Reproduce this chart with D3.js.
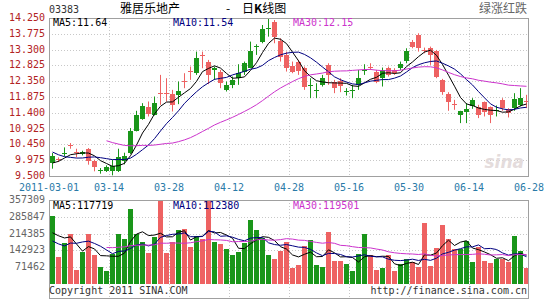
<!DOCTYPE html>
<html lang="zh-CN">
<head>
<meta charset="UTF-8">
<title>03383 雅居乐地产 日K线图</title>
<script src="https://cdn.jsdelivr.net/npm/d3@7/dist/d3.min.js"></script>
<style>
    body { margin: 0; background: #fff; }
    text { font-family: "DejaVu Sans Mono", monospace; }
</style>
</head>
<body>
<script>
    // trading days shown (2011)
    var dates = ["03-01","03-02","03-03","03-04","03-07","03-08","03-09","03-10","03-11","03-14",
        "03-15","03-16","03-17","03-18","03-21","03-22","03-23","03-24","03-25","03-28",
        "03-29","03-30","03-31","04-01","04-04","04-06","04-07","04-08","04-11","04-12",
        "04-13","04-14","04-15","04-18","04-19","04-20","04-21","04-26","04-27","04-28",
        "04-29","05-03","05-04","05-05","05-06","05-09","05-11","05-12","05-13","05-16",
        "05-17","05-18","05-19","05-20","05-23","05-24","05-25","05-26","05-27","05-30",
        "05-31","06-01","06-02","06-03","06-07","06-08","06-09","06-10","06-13","06-14",
        "06-15","06-16","06-17","06-20","06-21","06-22","06-23","06-24","06-27","06-28"];

    var open = [9.89,10.00,10.15,10.43,10.21,10.17,10.32,9.96,9.66,9.64,
        9.64,9.64,9.94,10.19,10.86,11.22,11.57,11.34,12.00,12.00,
        11.96,11.94,12.37,12.65,12.59,13.13,12.92,12.69,12.64,12.09,
        12.24,12.44,12.64,12.76,13.38,13.54,13.93,14.14,13.56,13.14,
        12.82,12.92,12.74,12.22,12.08,12.24,12.84,12.32,12.36,12.03,
        12.06,12.24,12.68,12.77,12.64,12.44,12.76,12.69,12.76,12.96,
        13.54,13.74,13.30,13.36,13.26,12.39,11.96,11.65,11.34,11.42,
        11.61,11.56,11.72,11.56,11.45,11.79,11.52,11.54,11.64,11.75];
    var high = [10.19,10.06,10.36,10.49,10.32,10.26,10.34,9.99,9.74,9.82,
        9.99,10.32,10.20,10.94,11.46,11.69,11.74,11.89,12.54,12.44,
        12.09,12.34,12.59,12.79,13.24,13.24,12.99,12.79,12.69,12.34,
        12.49,12.86,12.94,13.54,13.46,14.04,14.25,14.19,13.64,13.24,
        12.94,12.99,12.79,12.44,12.29,12.54,12.89,12.39,12.44,12.14,
        12.24,12.69,12.86,12.89,12.69,12.76,12.79,12.74,12.94,13.34,
        13.59,13.79,13.36,13.39,13.29,12.42,12.02,11.79,11.46,11.69,
        11.84,11.64,11.74,11.59,11.62,11.84,11.54,11.99,12.14,11.94];
    var low = [9.72,9.92,10.09,10.32,10.06,10.12,9.84,9.64,9.57,9.62,
        9.52,9.62,9.85,10.16,10.84,11.19,11.29,11.32,11.64,11.74,
        11.44,11.66,12.14,12.39,12.54,12.74,12.26,12.39,12.14,12.04,
        12.14,12.24,12.54,12.74,13.14,13.49,13.69,13.49,12.94,12.64,
        12.59,12.54,12.09,11.84,11.84,12.19,12.24,11.99,12.02,11.92,
        11.84,12.09,12.54,12.69,12.29,12.19,12.49,12.54,12.69,12.89,
        13.34,13.24,13.19,12.84,12.44,11.94,11.46,11.49,11.09,11.09,
        11.52,11.24,11.29,11.09,11.29,11.46,11.26,11.46,11.59,11.54];
    var close = [10.09,9.98,10.18,10.40,10.19,10.22,9.96,9.76,9.68,9.76,
        9.79,10.06,10.11,10.84,11.34,11.61,11.36,11.69,11.98,11.97,
        11.64,12.06,12.35,12.63,13.04,13.11,12.54,12.74,12.29,12.24,
        12.39,12.59,12.89,13.26,13.40,13.92,13.96,13.69,13.09,12.74,
        12.64,12.66,12.19,12.24,12.09,12.46,12.54,12.16,12.22,12.05,
        12.08,12.46,12.70,12.75,12.34,12.69,12.54,12.59,12.86,13.26,
        13.39,13.34,13.28,13.14,12.49,12.02,11.72,11.63,11.44,11.52,
        11.79,11.34,11.42,11.32,11.47,11.54,11.39,11.82,11.84,11.73];
    var volume = [289000,116000,173000,213000,60000,137000,213000,123000,71000,55000,
        128000,213000,190000,319000,211000,177000,133000,201000,357309,133000,
        180000,230000,233000,159000,204000,190000,352000,180000,170000,149000,
        123000,138000,173000,272000,230000,194000,123000,106000,140000,180000,
        69000,81000,162000,187000,81000,74000,223000,99000,99000,85000,
        57000,128000,211000,123000,60000,69000,123000,55000,85000,106000,
        95000,74000,261000,77000,152000,251000,191000,148000,148000,183000,
        95000,156000,99000,91000,106000,106000,95000,204000,140000,67000];

    // the 20 sessions before 03-01, only used to seed the moving averages
    var prevClose = [11.45,11.40,11.30,11.20,11.25,11.30,11.40,11.35,11.30,11.25,
        11.25,10.80,10.75,10.61,10.40,10.19,9.73,9.68,9.90,10.05];
    var prevVolume = [150000,160000,140000,170000,155000,150000,145000,160000,150000,140000,
        150000,240000,260000,90000,70000,80000,180000,220000,190000,211000];

    var priceTicks = [9.5,9.975,10.45,10.925,11.4,11.875,12.35,12.825,13.3,13.775,14.25];
    var volumeTicks = [71462,142923,214385,285847,357309];
    var dateLabels = ["2011-03-01","03-14","03-28","04-12","04-28","05-16","05-30","06-14","06-28"];
    var maPeriods = [5,10,30];
    var priceMaText = ["MA5:11.64","MA10:11.54","MA30:12.15"];
    var volumeMaText = ["MA5:117719","MA10:112380","MA30:119501"];

    // 画布
    var width = 545, height = 301;
    var left = 49, right = 529;
    var pTop = 18, pBot = 176;
    var vTop = 200, vBot = 284, vBox = 298;
    var green = "#1a961a", red = "#ee6262";
    var maColor = ["#000000","#000080","#cc33cc"];

    var svg = d3.select("body").append("svg")
        .attr("width", width)
        .attr("height", height);

    var x = d3.scaleBand().domain(d3.range(dates.length)).range([left, right]);
    var xl = d3.scalePoint().domain(dateLabels).range([left, right]);
    var yp = d3.scaleLinear().domain([9.5, 14.25]).range([pBot, pTop]);
    var yv = d3.scaleLinear().domain([0, 357309]).range([vBot, vTop]);

    function px(v) { return Math.round(v) + 0.5; }

    // 网格
    function grid(top, bottom, ys) {
        var g = svg.append("g")
            .attr("stroke", "#c8c8c8")
            .attr("stroke-dasharray", "1,2");
        dateLabels.slice(1, -1).forEach(function (d) {
            g.append("line")
                .attr("x1", px(xl(d))).attr("x2", px(xl(d)))
                .attr("y1", top).attr("y2", bottom);
        });
        ys.forEach(function (y) {
            g.append("line")
                .attr("x1", left).attr("x2", right)
                .attr("y1", px(y)).attr("y2", px(y));
        });
    }
    grid(pTop, pBot, priceTicks.slice(1, -1).map(yp));
    grid(vTop, vBox, volumeTicks.slice(0, -1).map(yv));

    // sina watermark
    svg.append("text")
        .attr("x", 524).attr("y", 168)
        .attr("text-anchor", "end")
        .style("font-family", "DejaVu Sans")
        .style("font-style", "italic")
        .style("font-weight", "bold")
        .style("font-size", "17px")
        .attr("fill", "#e4dcdc")
        .text("sina");

    // 均线
    function movingAverage(prev, vals, n) {
        var all = prev.concat(vals);
        return vals.map(function (v, i) {
            var end = prev.length + i;
            if (end + 1 < n) return null;
            return d3.mean(all.slice(end + 1 - n, end + 1));
        });
    }
    function drawMa(prev, vals, y) {
        maPeriods.forEach(function (n, k) {
            var ma = movingAverage(prev, vals, n);
            var line = d3.line()
                .defined(function (d) { return d !== null; })
                .x(function (d, i) { return x(i) + 3.5; })
                .y(function (d) { return y(d); });
            svg.append("path")
                .datum(ma)
                .attr("d", line)
                .attr("fill", "none")
                .attr("stroke", maColor[k])
                .attr("stroke-width", 1);
        });
    }

    // K线
    var candles = svg.append("g");
    dates.forEach(function (d, i) {
        var up = close[i] >= open[i];
        var c = up ? green : red;
        var cx = x(i) + 3.5;
        candles.append("line")
            .attr("x1", cx).attr("x2", cx)
            .attr("y1", yp(high[i])).attr("y2", yp(low[i]))
            .attr("stroke", c);
        var t = Math.round(yp(Math.max(open[i], close[i])));
        var b = Math.round(yp(Math.min(open[i], close[i])));
        candles.append("rect")
            .attr("x", x(i) + 1)
            .attr("y", t)
            .attr("width", 5)
            .attr("height", Math.max(1, b - t))
            .attr("fill", c);
    });
    drawMa(prevClose, close, yp);

    // 成交量
    var bars = svg.append("g");
    dates.forEach(function (d, i) {
        var up = close[i] >= open[i];
        var t = Math.round(yv(volume[i]));
        bars.append("rect")
            .attr("x", x(i) + 1)
            .attr("y", t)
            .attr("width", 5)
            .attr("height", vBot - t)
            .attr("fill", up ? green : red);
    });
    drawMa(prevVolume, volume, yv);

    // 边框
    svg.append("rect")
        .attr("x", left + 0.5).attr("y", pTop + 0.5)
        .attr("width", right - left - 1).attr("height", pBot - pTop)
        .attr("fill", "none").attr("stroke", "#a0a0a0");
    svg.append("rect")
        .attr("x", left + 0.5).attr("y", vTop + 0.5)
        .attr("width", right - left - 1).attr("height", vBox - vTop)
        .attr("fill", "none").attr("stroke", "#a0a0a0");

    // 坐标文字
    svg.selectAll(".pt").data(priceTicks).enter().append("text")
        .attr("x", 45).attr("y", function (d) { return yp(d) + 3; })
        .attr("text-anchor", "end")
        .attr("fill", "#b22222")
        .style("font-size", "10px")
        .text(function (d) { return d.toFixed(3); });
    svg.selectAll(".vt").data(volumeTicks).enter().append("text")
        .attr("x", 45).attr("y", function (d) { return yv(d) + 3; })
        .attr("text-anchor", "end")
        .attr("fill", "#666")
        .style("font-size", "10px")
        .text(function (d) { return d; });
    svg.selectAll(".dt").data(dateLabels).enter().append("text")
        .attr("x", function (d) { return xl(d); })
        .attr("y", 191)
        .attr("text-anchor", function (d, i) { return i === 0 ? "middle" : "middle"; })
        .attr("fill", "#2a7aa8")
        .style("font-size", "10px")
        .text(function (d) { return d; });

    // 均线数值
    [53, 173, 293].forEach(function (lx, k) {
        svg.append("text").attr("x", lx).attr("y", 26)
            .attr("fill", maColor[k]).style("font-size", "10px")
            .text(priceMaText[k]);
        svg.append("text").attr("x", lx).attr("y", 209)
            .attr("fill", maColor[k]).style("font-size", "10px")
            .text(volumeMaText[k]);
    });

    // 标题
    svg.append("text").attr("x", 49).attr("y", 13)
        .attr("fill", "#333").style("font-size", "10px").text("03383");
    var title = svg.append("text").attr("x", 120).attr("y", 13)
        .style("font-family", "'Noto Sans CJK SC', sans-serif")
        .style("font-size", "12px").attr("fill", "#000");
    title.append("tspan").text("雅居乐地产");
    title.append("tspan").attr("x", 226).text("-");
    title.append("tspan").attr("x", 242).text("日");
    title.append("tspan").style("font-weight", "bold").text("K");
    title.append("tspan").text("线图");
    svg.append("text").attr("x", 527).attr("y", 13)
        .attr("text-anchor", "end")
        .style("font-family", "'Noto Sans CJK SC', sans-serif")
        .style("font-size", "12px").attr("fill", "#666")
        .text("绿涨红跌");

    svg.append("text").attr("x", 49).attr("y", 294)
        .attr("fill", "#333").style("font-size", "10px")
        .text("Copyright 2011 SINA.COM");
    svg.append("text").attr("x", 527).attr("y", 294)
        .attr("text-anchor", "end")
        .attr("fill", "#333").style("font-size", "10px")
        .text("http://finance.sina.com.cn");
</script>
</body>
</html>
